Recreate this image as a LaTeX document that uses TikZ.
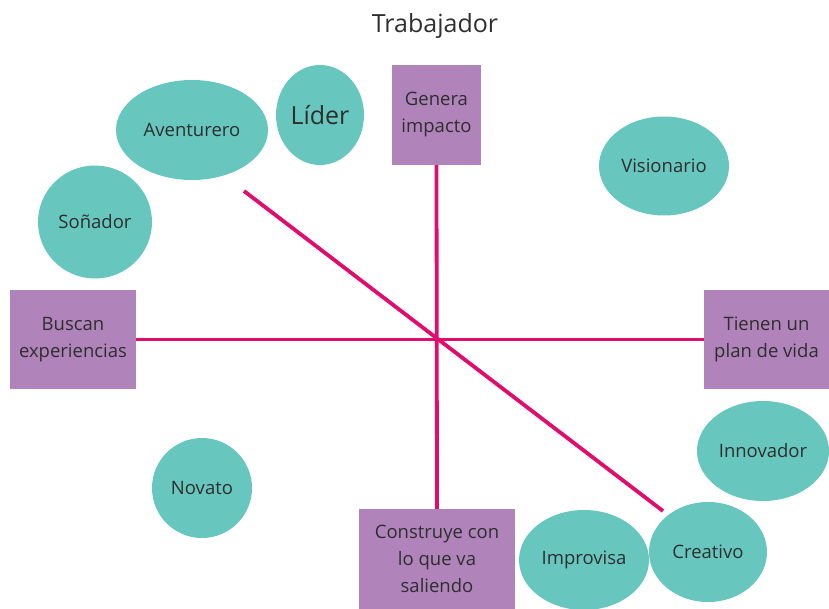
\documentclass[tikz,border=0pt]{standalone}
\usepackage{fontspec}
\setmainfont{Open Sans}
\usetikzlibrary{shapes.geometric}
\definecolor{teal1}{HTML}{67C7BF}
\definecolor{purp}{HTML}{B084BA}
\definecolor{mag}{HTML}{E00D6C}
\definecolor{txt}{HTML}{2E2E2E}
\begin{document}
\begin{tikzpicture}[x=1pt,y=-1pt,
  oval/.style={ellipse,fill=teal1,inner sep=0pt,text=txt,font=\fontsize{18.5}{22}\selectfont},
  box/.style={rectangle,fill=purp,inner sep=0pt,text=txt,align=center,font=\fontsize{18.5}{27}\selectfont},
  link/.style={draw=mag,line width=3.8pt}]
\useasboundingbox (0,0) rectangle (829,608);
\node[text=txt,font=\fontsize{25}{30}\selectfont] (title) at (435,26) {Trabajador};
% boxes
\node[box,minimum width=89pt,minimum height=100pt] (genera) at (436.5,115) {Genera\\impacto};
\node[box,minimum width=126pt,minimum height=99pt] (buscan) at (73,339.5) {Buscan\\experiencias};
\node[box,minimum width=125pt,minimum height=99pt] (tienen) at (766.5,339.5) {Tienen un\\plan de vida};
\node[box,minimum width=156pt,minimum height=100pt] (construye) at (437,559) {Construye con\\lo que va\\saliendo};
% connectors
\coordinate (d1) at (244,191);
\coordinate (d2) at (663,511);
\draw[link] (genera.south) -- (construye.north);
\draw[link] (buscan.east) -- (tienen.west);
\draw[link] (d1) -- (d2);
% ovals
\node[oval,minimum width=152pt,minimum height=100pt] (aventurero) at (192,130) {Aventurero};
\node[oval,minimum width=88pt,minimum height=100pt,font=\fontsize{25}{30}\selectfont] (lider) at (320,115) {Líder};
\node[oval,minimum width=114pt,minimum height=113pt] (sonador) at (95,222) {Soñador};
\node[oval,minimum width=130pt,minimum height=99pt] (visionario) at (664,166) {Visionario};
\node[oval,minimum width=100pt,minimum height=100pt] (novato) at (202,488) {Novato};
\node[oval,minimum width=132pt,minimum height=100pt] (innovador) at (763,451) {Innovador};
\node[oval,minimum width=130pt,minimum height=100pt] (improvisa) at (584,560) {Improvisa};
\node[oval,minimum width=118pt,minimum height=100pt] (creativo) at (708,552) {Creativo};
\end{tikzpicture}
\end{document}
